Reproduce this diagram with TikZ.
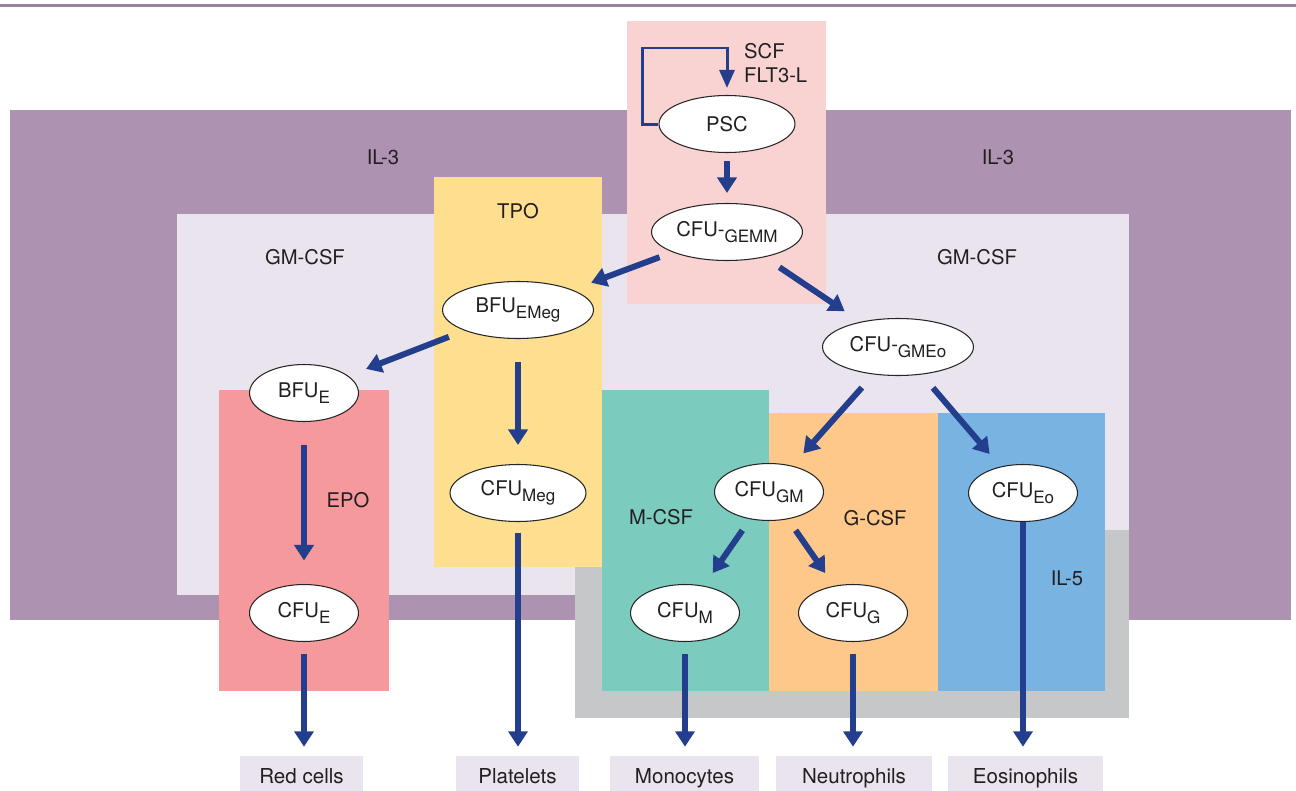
\documentclass[tikz,border=0pt]{standalone}
\usepackage{fontspec}
\setmainfont{TeX Gyre Heros}
\usetikzlibrary{shapes.geometric,arrows.meta}

\definecolor{ink}{HTML}{231F20}
\definecolor{rulecol}{HTML}{9D7FA2}
\definecolor{ilpurple}{HTML}{AE92B2}
\definecolor{lavender}{HTML}{E9E4EE}
\definecolor{pscpink}{HTML}{F9D3D2}
\definecolor{tpoyellow}{HTML}{FDDF8F}
\definecolor{epored}{HTML}{F5999C}
\definecolor{mteal}{HTML}{7BCBBE}
\definecolor{gorange}{HTML}{FDC88A}
\definecolor{eoblue}{HTML}{78B3E2}
\definecolor{ilgrey}{HTML}{C6C7C9}
\definecolor{flowblue}{HTML}{233E8C}

\newcommand{\lowsub}[1]{\raisebox{-3.4pt}{\fontsize{9.7}{10}\selectfont #1}}

\begin{document}
\begin{tikzpicture}[x=0.02cm, y=-0.02cm,
    cell/.style={ellipse, draw=black!85, line width=0.6pt, fill=white, inner sep=0pt,
        minimum width=2.18cm, minimum height=1.14cm,
        font=\fontsize{11.5}{13}\selectfont, text=ink},
    widecell/.style={cell, minimum width=3.02cm},
    cue/.style={font=\fontsize{11.5}{14}\selectfont, text=ink},
    outbox/.style={fill=lavender, anchor=base, inner sep=0pt,
        text height=15.6pt, text depth=4.25pt,
        font=\fontsize{11.7}{13}\selectfont, text=ink},
    flow/.style={draw=flowblue, line width=0.12cm,
        -{Triangle[width=0.38cm,length=0.31cm]}},
    loopline/.style={draw=flowblue, line width=0.06cm,
        -{Triangle[width=0.3cm,length=0.36cm]}}]

    \useasboundingbox (0,0) rectangle (1296,791);

    \draw[rulecol, line width=1.4pt] (0,5.5) -- (1296,5.5);

    \fill[ilpurple] (10,110) rectangle (1291,620);
    \fill[lavender] (177,214) rectangle (1129,595);
    \fill[ilgrey] (575,530) rectangle (1129,718);
    \fill[pscpink] (627,21) rectangle (826,304);
    \fill[tpoyellow] (434,177) rectangle (602,567);
    \fill[epored] (219,390) rectangle (389,691);
    \fill[mteal] (602,390) rectangle (769,691);
    \fill[gorange] (769,413) rectangle (938,691);
    \fill[eoblue] (938,413) rectangle (1105,691);

    \node[cue] at (383,157) {IL-3};
    \node[cue] at (998,157) {IL-3};
    \node[cue] at (518,211) {TPO};
    \node[cue] at (305,257) {GM-CSF};
    \node[cue] at (977,257) {GM-CSF};
    \node[cue] at (348,500) {EPO};
    \node[cue] at (661,517) {M-CSF};
    \node[cue] at (875,518) {G-CSF};
    \node[cue] at (1067,578) {IL-5};
    \node[cue, anchor=west, align=left] at (738,63) {SCF\\FLT3-L};

    \node[cell, minimum width=2.72cm] (psc) at (727,124) {PSC};
    \node[widecell] (gemm) at (727,232) {CFU-\lowsub{GEMM}};
    \node[widecell] (bfuemeg) at (518,310) {BFU\lowsub{EMeg}};
    \node[widecell] (gmeo) at (898,347) {CFU-\lowsub{GMEo}};
    \node[cell] (bfue) at (304,393) {BFU\lowsub{E}};
    \node[cell, minimum width=2.72cm] (cfumeg) at (518,493) {CFU\lowsub{Meg}};
    \node[cell] (cfugm) at (769,492) {CFU\lowsub{GM}};
    \node[cell] (cfueo) at (1023,493) {CFU\lowsub{Eo}};
    \node[cell] (cfue) at (304,613) {CFU\lowsub{E}};
    \node[cell] (cfum) at (685,613) {CFU\lowsub{M}};
    \node[cell] (cfug) at (853,613) {CFU\lowsub{G}};

    \node[outbox, minimum width=2.46cm] (redcells) at (301.5,783.5) {Red cells};
    \node[outbox, minimum width=2.46cm] (platelets) at (517.5,783.5) {Platelets};
    \node[outbox, minimum width=2.98cm] (monocytes) at (684.5,783.5) {Monocytes};
    \node[outbox, minimum width=3.12cm] (neutrophils) at (854,783.5) {Neutrophils};
    \node[outbox, minimum width=3.1cm] (eosinophils) at (1025.5,783.5) {Eosinophils};

    \coordinate (looptop) at (642,48);
    \draw[loopline, shorten >=0.14cm] (psc.west) -| (looptop) -| (psc.north);

    \draw[flow, shorten <=0.16cm, shorten >=0.2cm] (psc) -- (gemm);
    \draw[flow, shorten <=0.28cm, shorten >=0.4cm] (gemm) -- (bfuemeg);
    \draw[flow, shorten <=0.36cm, shorten >=0.38cm] (gemm) -- (gmeo);
    \draw[flow, shorten <=0.34cm, shorten >=0.38cm] (bfuemeg) -- (bfue);
    \draw[flow, shorten <=0.46cm, shorten >=0.38cm] (bfuemeg) -- (cfumeg);
    \draw[flow, shorten <=0.35cm, shorten >=0.33cm] (gmeo) -- (cfugm);
    \draw[flow, shorten <=0.35cm, shorten >=0.33cm] (gmeo) -- (cfueo);
    \draw[flow, shorten <=0.46cm, shorten >=0.47cm] (bfue) -- (cfue);
    \draw[flow, shorten <=0.27cm, shorten >=0.31cm] (cfugm) -- (cfum);
    \draw[flow, shorten <=0.27cm, shorten >=0.31cm] (cfugm) -- (cfug);

    \draw[flow, shorten <=0.23cm, shorten >=0.18cm] (cfue) -- (cfue |- redcells.north);
    \draw[flow, shorten <=0.21cm, shorten >=0.18cm] (cfumeg) -- (cfumeg |- platelets.north);
    \draw[flow, shorten <=0.23cm, shorten >=0.18cm] (cfum) -- (cfum |- monocytes.north);
    \draw[flow, shorten <=0.23cm, shorten >=0.18cm] (cfug) -- (cfug |- neutrophils.north);
    \draw[flow, shorten >=0.18cm] (cfueo) -- (cfueo |- eosinophils.north);
\end{tikzpicture}
\end{document}
